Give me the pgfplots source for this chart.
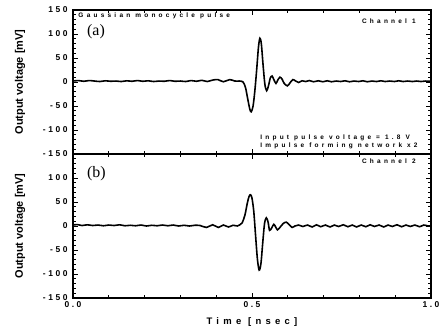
\documentclass[border=0pt]{standalone}
\usepackage{pgfplots}
\pgfplotsset{compat=1.18}
\usepackage{fontspec}
\setmainfont{Liberation Sans}
\newfontfamily\spfont[LetterSpace=30]{Liberation Sans}
\newfontfamily\annfont[LetterSpace=50]{Liberation Sans}
\newfontfamily\labfont[LetterSpace=45]{Liberation Sans}
\newfontfamily\serifa{Liberation Serif}
\newcommand\ann{\annfont\bfseries\fontsize{6.5}{7.8}\selectfont}
\pgfplotsset{
  panel/.style={
    scale only axis, width=358bp, height=144bp,
    xmin=0, xmax=1, ymin=-150, ymax=150,
    xtick={0,0.5,1}, minor xtick={0.1,0.2,0.3,0.4,0.6,0.7,0.8,0.9},
    ytick={-150,-100,...,150}, minor ytick={-140,-130,...,140},
    tick align=inside,
    major tick length=5bp, minor tick length=3bp,
    every tick/.style={line width=1pt, black},
    axis line style={line width=1.4pt},
    yticklabel style={font=\spfont\bfseries\fontsize{8.5}{9}\selectfont, xshift=-2bp},
    xticklabel style={font=\spfont\bfseries\fontsize{8.5}{9}\selectfont},
    ylabel={Output voltage [mV]},
    every axis y label/.style={at={(rel axis cs:-0.148,0.5)}, rotate=90, anchor=center, font=\bfseries\fontsize{11}{12}\selectfont},
    clip=true,
  },
  curve/.style={black, line width=1.6pt, smooth, no marks},
}
\begin{document}
\begin{tikzpicture}
\useasboundingbox (-73bp,-34bp) rectangle (375bp,298bp);
% bottom panel
\begin{axis}[panel, at={(0bp,0bp)}, anchor=south west,
  xticklabels={0.0,0.5,1.0},
  yticklabels={-150,-100,-50,0,50,100,{}},
  xlabel={Time [nsec]},
  xlabel style={font=\labfont\bfseries\fontsize{9.5}{10}\selectfont, yshift=-3bp}]
\addplot[curve] coordinates {
(0.000,2) (0.012,3) (0.025,1) (0.04,2.5) (0.055,1) (0.07,2) (0.085,0.5) (0.1,2)
(0.115,1) (0.13,2.5) (0.145,0.5) (0.16,1.5) (0.175,0.5) (0.19,2) (0.205,0) (0.22,1.5)
(0.235,0.5) (0.25,2) (0.265,0.5) (0.28,2) (0.295,0) (0.31,1.5) (0.325,0) (0.34,1.5)
(0.355,1) (0.373,-3) (0.39,2.5) (0.406,-3) (0.42,2) (0.434,-2) (0.447,1.5) (0.459,0)
(0.465,2) (0.472,6) (0.480,22) (0.487,48) (0.492,62) (0.496,65) (0.500,58) (0.505,30)
(0.510,-20) (0.515,-68) (0.520,-92) (0.525,-78) (0.530,-35) (0.535,5) (0.540,17)
(0.545,8) (0.549,-9) (0.555,-4) (0.561,3.5) (0.566,-2) (0.571,-8) (0.578,-3) (0.587,5)
(0.596,8) (0.605,2) (0.612,-3) (0.62,0) (0.63,2) (0.642,-1) (0.655,2) (0.668,-2)
(0.68,2.5) (0.692,-1.5) (0.705,2) (0.718,-2) (0.73,2) (0.742,-1) (0.755,2.5) (0.768,-1.5)
(0.78,2) (0.792,-2) (0.805,2) (0.818,-1.5) (0.83,2.5) (0.842,-1) (0.855,2) (0.868,-2)
(0.88,2) (0.892,-1) (0.905,2.5) (0.918,-1.5) (0.93,2) (0.942,-1) (0.955,2) (0.968,-1.5)
(0.98,2) (0.992,0) (1.0,1)
};
\node[anchor=north east, font=\ann] at (rel axis cs:0.967,0.99) {Channel 2};
\node[anchor=north west, font=\serifa\fontsize{16}{17}\selectfont, inner sep=0pt] at (rel axis cs:0.039,0.917) {(b)};
\end{axis}
% top panel
\begin{axis}[panel, at={(0bp,144bp)}, anchor=south west,
  xticklabels={},
  yticklabels={-150,-100,-50,0,50,100,150}]
\addplot[curve] coordinates {
(0.000,2) (0.015,3) (0.030,1.5) (0.045,3) (0.060,2) (0.075,1) (0.090,2.5) (0.105,1.5)
(0.120,2) (0.135,1) (0.150,2.5) (0.165,1.5) (0.180,3) (0.195,1.5) (0.210,2.5) (0.225,1)
(0.240,2) (0.255,1.5) (0.270,3) (0.285,1.5) (0.300,2) (0.315,1) (0.330,3) (0.345,1.5)
(0.360,3.5) (0.375,1) (0.390,4) (0.405,5) (0.420,0.5) (0.438,5) (0.452,2) (0.465,2)
(0.475,0) (0.482,-12) (0.488,-35) (0.494,-57) (0.498,-62) (0.503,-50) (0.508,-18)
(0.513,25) (0.518,72) (0.522,91) (0.526,80) (0.531,35) (0.536,-5) (0.541,-18) (0.546,-8)
(0.551,8) (0.556,12.5) (0.561,5) (0.567,-3) (0.572,4) (0.578,10) (0.584,6) (0.590,-3)
(0.599,-8) (0.606,-2) (0.614,5) (0.622,2) (0.630,-1) (0.640,2.5) (0.650,1) (0.660,3)
(0.672,0.5) (0.685,2.5) (0.698,0.5) (0.71,2.5) (0.722,0.5) (0.735,2) (0.748,1) (0.76,2.5)
(0.772,0.5) (0.785,2) (0.798,1) (0.81,2.5) (0.822,0.5) (0.835,2) (0.848,1) (0.86,2.5)
(0.872,1) (0.885,2) (0.898,1) (0.91,2.5) (0.922,1) (0.935,2) (0.948,1) (0.96,2)
(0.972,1) (0.985,2) (1.0,1.5)
};
\node[anchor=north west, font=\ann, inner sep=1bp] at (rel axis cs:0.012,0.99) {Gaussian monocycle pulse};
\node[anchor=north east, font=\ann] at (rel axis cs:0.967,0.96) {Channel 1};
\node[anchor=north west, font=\serifa\fontsize{16}{17}\selectfont, inner sep=0pt] at (rel axis cs:0.039,0.903) {(a)};
\node[anchor=south west, font=\ann, align=left, inner sep=1bp] at (rel axis cs:0.52,0.03) {Input pulse voltage = 1.8 V\\Impulse forming network x2};
\end{axis}
\end{tikzpicture}
\end{document}
